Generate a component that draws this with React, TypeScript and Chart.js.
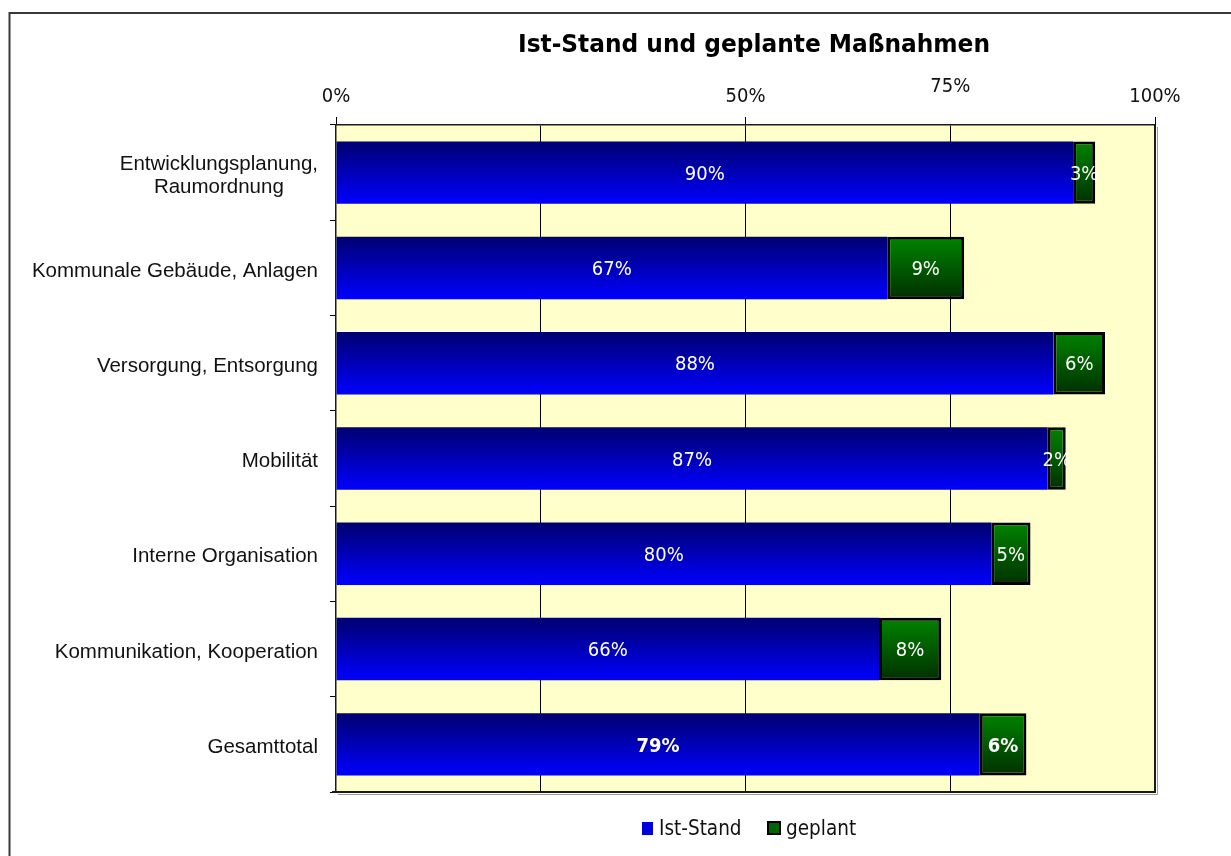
import React, { useEffect, useRef } from "react";
import { Chart, registerables } from "chart.js";

Chart.register(...registerables);

const chartTitle = "Ist-Stand und geplante Maßnahmen";
const categories: (string | string[])[] = [
  ["Entwicklungsplanung,", "Raumordnung"],
  "Kommunale Gebäude, Anlagen",
  "Versorgung, Entsorgung",
  "Mobilität",
  "Interne Organisation",
  "Kommunikation, Kooperation",
  "Gesamttotal",
];
const seriesNames = ["Ist-Stand", "geplant"];
const istStand = [90, 67.3, 87.6, 86.9, 80, 66.3, 78.6];
const geplant = [2.7, 9.4, 6.3, 2.2, 4.8, 7.6, 5.7];
const xTickValues = [0, 25, 50, 75, 100];
const xTickLabels = ["0%", "", "50%", "75%", "100%"];
const majorTickValues = [0, 50, 100];

const SANS = "'DejaVu Sans Condensed', 'DejaVu Sans', sans-serif";
const ARIAL = "'Liberation Sans', Arial, sans-serif";
const BAR_PCT = 0.655;

function barGradient(ctx: any, top: string, bottom: string, fallback: string) {
  const chart = ctx.chart;
  if (!chart.chartArea || ctx.dataIndex === undefined) return fallback;
  const y = chart.scales.y;
  if (!y) return fallback;
  const c = y.getPixelForValue(ctx.dataIndex);
  const band = Math.abs(y.getPixelForValue(1) - y.getPixelForValue(0));
  const h = band * BAR_PCT;
  const g = chart.ctx.createLinearGradient(0, c - h / 2, 0, c + h / 2);
  g.addColorStop(0, top);
  g.addColorStop(1, bottom);
  return g;
}

const decorPlugin = {
  id: "decor",
  beforeDraw(chart: any) {
    const { ctx, chartArea: a } = chart;
    ctx.save();
    ctx.fillStyle = "#ffffff";
    ctx.fillRect(0, 0, chart.width, chart.height);
    // outer frame
    ctx.strokeStyle = "#3a3a3a";
    ctx.lineWidth = 2;
    ctx.strokeRect(9.5, 13, chart.width + 50, chart.height + 50);
    // plot background
    ctx.fillStyle = "#FFFFCC";
    ctx.fillRect(a.left, a.top, a.right - a.left, a.bottom - a.top);
    ctx.restore();
  },
  afterDraw(chart: any) {
    const { ctx, chartArea: a } = chart;
    const xs = chart.scales.x;
    const ys = chart.scales.y;
    ctx.save();
    // plot border (right & bottom with shadow)
    ctx.strokeStyle = "#999999";
    ctx.lineWidth = 1;
    ctx.beginPath();
    ctx.moveTo(a.right + 2.5, a.top + 2);
    ctx.lineTo(a.right + 2.5, a.bottom + 2.5);
    ctx.lineTo(a.left + 2, a.bottom + 2.5);
    ctx.stroke();
    ctx.strokeStyle = "#1a1a1a";
    ctx.lineWidth = 2;
    ctx.beginPath();
    ctx.moveTo(a.right, a.top);
    ctx.lineTo(a.right, a.bottom);
    ctx.lineTo(a.left - 4, a.bottom);
    ctx.stroke();

    // title
    ctx.fillStyle = "#000000";
    ctx.font = "bold 24px " + SANS;
    ctx.textAlign = "center";
    ctx.textBaseline = "alphabetic";
    const tw = ctx.measureText(chartTitle).width;
    const sx = 472 / tw;
    ctx.save();
    ctx.translate(754, 52);
    ctx.scale(sx, 1);
    ctx.fillText(chartTitle, 0, 0);
    ctx.restore();

    // x tick labels
    ctx.font = "20px " + SANS;
    ctx.fillStyle = "#111111";
    ctx.textAlign = "center";
    ctx.textBaseline = "middle";
    xTickValues.forEach((v, i) => {
      const lbl = xTickLabels[i];
      if (!lbl) return;
      const px = xs.getPixelForValue(v);
      const py = v === 75 ? 87 : 97;
      ctx.fillText(lbl, px, py);
    });

    // y category labels
    ctx.font = "20.5px " + ARIAL;
    ctx.fillStyle = "#111111";
    ctx.textBaseline = "middle";
    ctx.textAlign = "center";
    const rightEdge = 318;
    const lineH = 23;
    categories.forEach((c, i) => {
      const lines = Array.isArray(c) ? c : [c];
      const maxW = Math.max(...lines.map((l) => ctx.measureText(l).width));
      const cx = rightEdge - maxW / 2;
      const cy = ys.getPixelForValue(i) + 3;
      lines.forEach((l, j) => {
        ctx.fillText(l, cx, cy + (j - (lines.length - 1) / 2) * lineH);
      });
    });

    // bar value labels
    ctx.fillStyle = "#ffffff";
    ctx.textAlign = "center";
    ctx.textBaseline = "middle";
    chart.data.datasets.forEach((ds: any, di: number) => {
      const meta = chart.getDatasetMeta(di);
      meta.data.forEach((el: any, i: number) => {
        const p = el.getProps(["x", "base", "y"], true);
        const bold = i === categories.length - 1;
        ctx.font = (bold ? "bold " : "") + "20px " + SANS;
        const val = Math.round(ds.data[i]) + "%";
        ctx.fillText(val, (p.x + p.base) / 2, p.y + 2);
      });
    });

    // legend
    ctx.fillStyle = "#0000DD";
    ctx.fillRect(642, 822, 11, 13);
    ctx.fillStyle = "#000000";
    ctx.fillRect(767, 821, 14, 14);
    ctx.fillStyle = "#006400";
    ctx.fillRect(769, 823, 10, 10);
    ctx.font = "20.5px " + SANS;
    ctx.fillStyle = "#111111";
    ctx.textAlign = "left";
    ctx.textBaseline = "alphabetic";
    ctx.fillText(seriesNames[0], 659, 835);
    ctx.fillText(seriesNames[1], 786, 835);
    ctx.restore();
  },
};

export default function App() {
  const canvasRef = useRef<HTMLCanvasElement | null>(null);

  useEffect(() => {
    document.body.style.margin = "0";
    const canvas = canvasRef.current;
    if (!canvas) return;
    const chart = new Chart(canvas, {
      type: "bar",
      data: {
        labels: categories as any,
        datasets: [
          {
            label: seriesNames[0],
            data: istStand,
            backgroundColor: (ctx: any) => barGradient(ctx, "#000070", "#0000FF", "#0000CC"),
            borderWidth: 0,
            barPercentage: BAR_PCT,
            categoryPercentage: 1,
          },
          {
            label: seriesNames[1],
            data: geplant,
            backgroundColor: (ctx: any) => barGradient(ctx, "#008400", "#003000", "#006400"),
            borderColor: "#000000",
            borderWidth: 3,
            borderSkipped: false,
            barPercentage: BAR_PCT,
            categoryPercentage: 1,
          },
        ],
      },
      options: {
        indexAxis: "y",
        responsive: true,
        maintainAspectRatio: false,
        animation: false,
        layout: { padding: { left: 330, right: 76, top: 117, bottom: 64 } },
        plugins: {
          legend: { display: false },
          title: { display: false },
          tooltip: { enabled: false },
        },
        scales: {
          x: {
            type: "linear",
            position: "top",
            stacked: true,
            min: 0,
            max: 100,
            afterBuildTicks: (scale: any) => {
              scale.ticks = xTickValues.map((v) => ({ value: v }));
            },
            ticks: { display: false },
            grid: {
              display: true,
              drawOnChartArea: true,
              drawTicks: true,
              tickLength: 8,
              lineWidth: 1,
              color: (c: any) =>
                c.tick && (c.tick.value === 0 || c.tick.value === 100) ? "rgba(0,0,0,0)" : "#000000",
              tickColor: (c: any) =>
                c.tick && majorTickValues.includes(c.tick.value) ? "#000000" : "rgba(0,0,0,0)",
            },
            border: { display: true, color: "#1a1a1a", width: 1.5 },
          },
          y: {
            type: "category",
            stacked: true,
            ticks: { display: false },
            grid: {
              display: true,
              drawOnChartArea: false,
              drawTicks: true,
              tickLength: 6,
              offset: true,
              color: "#000000",
              lineWidth: 1,
            },
            border: { display: true, color: "#1a1a1a", width: 1.5 },
          },
        },
      },
      plugins: [decorPlugin],
    } as any);
    return () => chart.destroy();
  }, []);

  return (
    <div style={{ position: "relative", width: "1231px", height: "856px" }}>
      <canvas ref={canvasRef} />
    </div>
  );
}
